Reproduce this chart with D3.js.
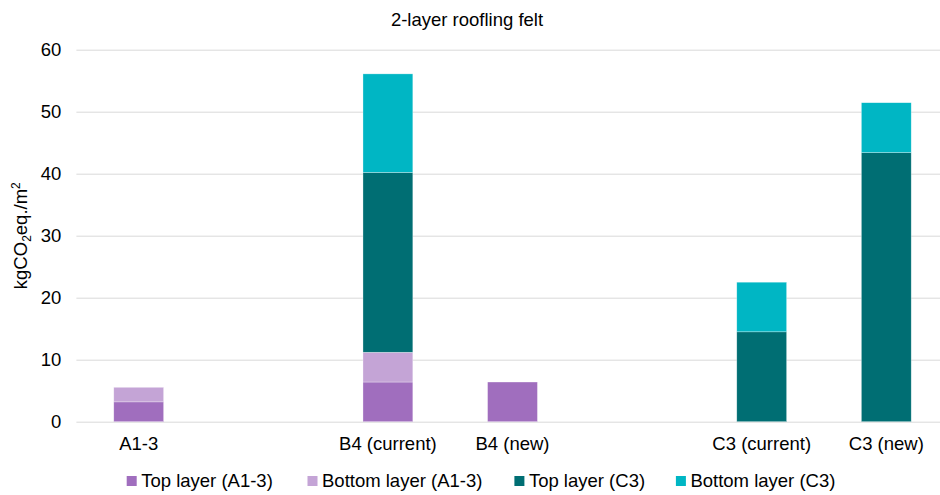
<!DOCTYPE html>
<html>
<head>
<meta charset="utf-8">
<script src="https://cdn.jsdelivr.net/npm/d3@7"></script>
<style>
  body { margin: 0; background: #fff; }
  svg { display: block; font-family: "Liberation Sans", Arial, sans-serif; }
</style>
</head>
<body>
<svg id="chart" width="940" height="495"></svg>
<script>
// ---- data ----
const categories = ["A1-3", "", "B4 (current)", "B4 (new)", "", "C3 (current)", "C3 (new)"];
const topLayerA = [3.2, 0, 6.4, 6.4, 0, 0, 0];
const bottomLayerA = [2.35, 0, 4.8, 0, 0, 0, 0];
const topLayerC = [0, 0, 29.0, 0, 0, 14.5, 43.4];
const bottomLayerC = [0, 0, 15.9, 0, 0, 8.0, 8.05];
const seriesNames = ["Top layer (A1-3)", "Bottom layer (A1-3)", "Top layer (C3)", "Bottom layer (C3)"];
const seriesColors = ["#A06EBE", "#C4A4D6", "#006E73", "#00B6C4"];
const yTicks = [0, 10, 20, 30, 40, 50, 60];
const chartTitle = "2-layer roofling felt";

(function () {
// ---- build table ----
const keys = ["topA", "bottomA", "topC", "bottomC"];
const table = categories.map((c, i) => ({
  idx: i, cat: c,
  topA: topLayerA[i], bottomA: bottomLayerA[i], topC: topLayerC[i], bottomC: bottomLayerC[i]
}));
const stacked = d3.stack().keys(keys)(table);

const svg = d3.select("#chart");
const fontSize = 18.5;
const mLeft = 76.4, mRight = 948.6, mTop = 49.7, mBottom = 421.7;

const x = d3.scaleBand().domain(categories.map((c, i) => i))
  .range([mLeft, mRight]).paddingInner(0.6).paddingOuter(0.3);
const y = d3.scaleLinear().domain([0, 60]).range([mBottom, mTop]);

// gridlines
svg.append("g")
  .attr("transform", `translate(${mLeft},0)`)
  .call(d3.axisLeft(y).tickValues(yTicks).tickSize(-(940 - mLeft)).tickFormat(""))
  .call(g => g.select(".domain").remove())
  .call(g => g.selectAll(".tick line").attr("stroke", "#D9D9D9").attr("stroke-width", 1));

// y tick labels
svg.append("g")
  .attr("transform", `translate(${mLeft},0)`)
  .call(d3.axisLeft(y).tickValues(yTicks).tickSize(0).tickPadding(15))
  .call(g => g.select(".domain").remove())
  .call(g => g.selectAll("text").attr("font-size", fontSize).attr("fill", "#000")
    .attr("font-family", "'Liberation Sans', Arial, sans-serif"));

// bars
svg.append("g").selectAll("g")
  .data(stacked).join("g")
  .attr("fill", (d, i) => seriesColors[i])
  .selectAll("rect")
  .data(d => d.filter(s => s[1] - s[0] > 0))
  .join("rect")
  .attr("x", d => x(d.data.idx))
  .attr("width", x.bandwidth())
  .attr("y", d => y(d[1]))
  .attr("height", d => y(d[0]) - y(d[1]))
  .attr("stroke", "#ffffff")
  .attr("stroke-opacity", 0.5)
  .attr("stroke-width", 0.6);

// x labels
svg.append("g")
  .attr("transform", `translate(0,${mBottom})`)
  .call(d3.axisBottom(x).tickSize(0).tickPadding(15).tickFormat(i => categories[i]))
  .call(g => g.select(".domain").remove())
  .call(g => g.selectAll("text").attr("font-size", fontSize).attr("fill", "#000")
    .attr("font-family", "'Liberation Sans', Arial, sans-serif"));

// title
svg.append("text")
  .attr("x", 467).attr("y", 26)
  .attr("text-anchor", "middle")
  .attr("font-size", fontSize)
  .attr("fill", "#000")
  .text(chartTitle);

// y axis label
const yl = svg.append("text")
  .attr("transform", `translate(27,${(mTop + mBottom) / 2}) rotate(-90)`)
  .attr("text-anchor", "middle")
  .attr("font-size", fontSize)
  .attr("fill", "#000");
yl.append("tspan").text("kgCO");
yl.append("tspan").attr("font-size", fontSize * 0.65).attr("dy", 4).text("2");
yl.append("tspan").attr("dy", -4).text("eq./m");
yl.append("tspan").attr("font-size", fontSize * 0.65).attr("dy", -7).text("2");

// legend
const legendX = [126.7, 307.5, 514.4, 675.9];
const legend = svg.append("g").selectAll("g")
  .data(seriesNames).join("g")
  .attr("transform", (d, i) => `translate(${legendX[i]},476)`);
legend.append("rect")
  .attr("width", 10).attr("height", 10)
  .attr("fill", (d, i) => seriesColors[i]);
legend.append("text")
  .attr("x", 14.5).attr("y", 5).attr("dy", "0.35em")
  .attr("font-size", fontSize)
  .attr("fill", "#000")
  .text(d => d);
})();
</script>
</body>
</html>
